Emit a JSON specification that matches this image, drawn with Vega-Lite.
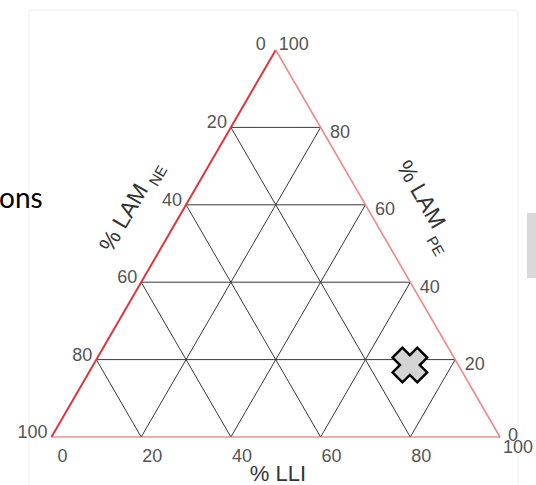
{
  "$schema": "https://vega.github.io/schema/vega-lite/v6.json",
  "width": 448.5,
  "height": 387,
  "autosize": "none",
  "padding": {"left": 51.5, "top": 50, "right": 36, "bottom": 48},
  "background": "white",
  "config": {"view": {"stroke": null}},
  "datasets": {
    "frame": [{"x": -5.0, "x2": 104.0, "y": 110.3, "y2": -14}],
    "side": [{"x": 106.0, "x2": 110, "y": 57.9, "y2": 41.1}],
    "snippet": [{"text": "ons", "x": -11.7, "y": 59.2}],
    "grid": [
      {"x": 10, "y": 20, "x2": 90, "y2": 20},
      {"x": 20, "y": 40, "x2": 80, "y2": 40},
      {"x": 30, "y": 60, "x2": 70, "y2": 60},
      {"x": 40, "y": 80, "x2": 60, "y2": 80},
      {"x": 40, "y": 80, "x2": 80, "y2": 0},
      {"x": 30, "y": 60, "x2": 60, "y2": 0},
      {"x": 20, "y": 40, "x2": 40, "y2": 0},
      {"x": 10, "y": 20, "x2": 20, "y2": 0},
      {"x": 20, "y": 0, "x2": 60, "y2": 80},
      {"x": 40, "y": 0, "x2": 70, "y2": 60},
      {"x": 60, "y": 0, "x2": 80, "y2": 40},
      {"x": 80, "y": 0, "x2": 90, "y2": 20}
    ],
    "edges": [
      {"edge": "left", "x": 0, "y": 0, "x2": 50, "y2": 100},
      {"edge": "right", "x": 100, "y": 0, "x2": 50, "y2": 100},
      {"edge": "bottom", "x": 0, "y": 0, "x2": 100, "y2": 0}
    ],
    "ticks": [
      {"axis": "NE", "v": 0, "x": 50, "y": 100},
      {"axis": "NE", "v": 20, "x": 40, "y": 80},
      {"axis": "NE", "v": 40, "x": 30, "y": 60},
      {"axis": "NE", "v": 60, "x": 20, "y": 40},
      {"axis": "NE", "v": 80, "x": 10, "y": 20},
      {"axis": "NE", "v": 100, "x": 0, "y": 0},
      {"axis": "PE", "v": 0, "x": 100, "y": 0},
      {"axis": "PE", "v": 20, "x": 90, "y": 20},
      {"axis": "PE", "v": 40, "x": 80, "y": 40},
      {"axis": "PE", "v": 60, "x": 70, "y": 60},
      {"axis": "PE", "v": 80, "x": 60, "y": 80},
      {"axis": "PE", "v": 100, "x": 50, "y": 100},
      {"axis": "LLI", "v": 0, "x": 0, "y": 0},
      {"axis": "LLI", "v": 20, "x": 20, "y": 0},
      {"axis": "LLI", "v": 40, "x": 40, "y": 0},
      {"axis": "LLI", "v": 60, "x": 60, "y": 0},
      {"axis": "LLI", "v": 80, "x": 80, "y": 0},
      {"axis": "LLI", "v": 100, "x": 100, "y": 0}
    ],
    "titles": [
      {"id": "LLI", "text": "% LLI", "x": 50.5, "y": -11.3},
      {"id": "NEmain", "text": "% LAM", "x": 16.2, "y": 56.6},
      {"id": "NEsub", "text": "NE", "x": 23.8, "y": 67.5},
      {"id": "PEmain", "text": "% LAM", "x": 82.3, "y": 62.6},
      {"id": "PEsub", "text": "PE", "x": 85.6, "y": 49.3}
    ],
    "points": [{"LLI": 70.6, "LAM_PE": 18.6, "LAM_NE": 10.8}]
  },
  "layer": [
    {
      "data": {"name": "frame"},
      "mark": {"type": "rect", "fill": null, "stroke": "#efefef", "strokeWidth": 1},
      "encoding": {
        "x": {"field": "x", "type": "quantitative", "scale": {"domain": [0, 100], "nice": false, "zero": false}, "axis": null},
        "x2": {"field": "x2"},
        "y": {"field": "y", "type": "quantitative", "scale": {"domain": [0, 100], "nice": false, "zero": false}, "axis": null},
        "y2": {"field": "y2"}
      }
    },
    {
      "data": {"name": "side"},
      "mark": {"type": "rect", "fill": "#d9d9d9"},
      "encoding": {
        "x": {"field": "x", "type": "quantitative", "scale": {"domain": [0, 100], "nice": false, "zero": false}, "axis": null},
        "x2": {"field": "x2"},
        "y": {"field": "y", "type": "quantitative", "scale": {"domain": [0, 100], "nice": false, "zero": false}, "axis": null},
        "y2": {"field": "y2"}
      }
    },
    {
      "data": {"name": "snippet"},
      "mark": {"type": "text", "font": "Lato", "fontSize": 28, "color": "#000000", "align": "left", "baseline": "alphabetic"},
      "encoding": {
        "x": {"field": "x", "type": "quantitative", "scale": {"domain": [0, 100], "nice": false, "zero": false}, "axis": null},
        "y": {"field": "y", "type": "quantitative", "scale": {"domain": [0, 100], "nice": false, "zero": false}, "axis": null},
        "text": {"field": "text"}
      }
    },
    {
      "data": {"name": "grid"},
      "mark": {"type": "rule", "color": "#383838", "strokeWidth": 1},
      "encoding": {
        "x": {"field": "x", "type": "quantitative", "scale": {"domain": [0, 100], "nice": false, "zero": false}, "axis": null},
        "x2": {"field": "x2"},
        "y": {"field": "y", "type": "quantitative", "scale": {"domain": [0, 100], "nice": false, "zero": false}, "axis": null},
        "y2": {"field": "y2"}
      }
    },
    {
      "data": {"name": "edges"},
      "mark": {"type": "rule"},
      "encoding": {
        "x": {"field": "x", "type": "quantitative", "scale": {"domain": [0, 100], "nice": false, "zero": false}, "axis": null},
        "x2": {"field": "x2"},
        "y": {"field": "y", "type": "quantitative", "scale": {"domain": [0, 100], "nice": false, "zero": false}, "axis": null},
        "y2": {"field": "y2"},
        "color": {"field": "edge", "type": "nominal", "scale": {"domain": ["left", "right", "bottom"], "range": ["#d8383f", "#ec8a8a", "#e05a5a"]}, "legend": null},
        "strokeWidth": {"field": "edge", "type": "nominal", "scale": {"domain": ["left", "right", "bottom"], "range": [2, 1.2, 1.6]}, "legend": null}
      }
    },
    {
      "data": {"name": "ticks"},
      "transform": [{"filter": "datum.axis === 'NE' && datum.v > 0"}],
      "mark": {"type": "text", "font": "Liberation Sans", "fontSize": 18, "color": "#555555", "align": "right", "baseline": "middle", "dx": -4, "dy": -4},
      "encoding": {
        "x": {"field": "x", "type": "quantitative", "scale": {"domain": [0, 100], "nice": false, "zero": false}, "axis": null},
        "y": {"field": "y", "type": "quantitative", "scale": {"domain": [0, 100], "nice": false, "zero": false}, "axis": null},
        "text": {"field": "v", "type": "quantitative"}
      }
    },
    {
      "data": {"name": "ticks"},
      "transform": [{"filter": "datum.axis === 'NE' && datum.v === 0"}],
      "mark": {"type": "text", "font": "Liberation Sans", "fontSize": 18, "color": "#555555", "align": "right", "baseline": "middle", "dx": -10, "dy": -5},
      "encoding": {
        "x": {"field": "x", "type": "quantitative", "scale": {"domain": [0, 100], "nice": false, "zero": false}, "axis": null},
        "y": {"field": "y", "type": "quantitative", "scale": {"domain": [0, 100], "nice": false, "zero": false}, "axis": null},
        "text": {"field": "v", "type": "quantitative"}
      }
    },
    {
      "data": {"name": "ticks"},
      "transform": [{"filter": "datum.axis === 'PE' && datum.v > 0 && datum.v < 100"}],
      "mark": {"type": "text", "font": "Liberation Sans", "fontSize": 18, "color": "#555555", "align": "left", "baseline": "middle", "dx": 9.5, "dy": 5.5},
      "encoding": {
        "x": {"field": "x", "type": "quantitative", "scale": {"domain": [0, 100], "nice": false, "zero": false}, "axis": null},
        "y": {"field": "y", "type": "quantitative", "scale": {"domain": [0, 100], "nice": false, "zero": false}, "axis": null},
        "text": {"field": "v", "type": "quantitative"}
      }
    },
    {
      "data": {"name": "ticks"},
      "transform": [{"filter": "datum.axis === 'PE' && datum.v === 0"}],
      "mark": {"type": "text", "font": "Liberation Sans", "fontSize": 18, "color": "#555555", "align": "left", "baseline": "middle", "dx": 8, "dy": -1},
      "encoding": {
        "x": {"field": "x", "type": "quantitative", "scale": {"domain": [0, 100], "nice": false, "zero": false}, "axis": null},
        "y": {"field": "y", "type": "quantitative", "scale": {"domain": [0, 100], "nice": false, "zero": false}, "axis": null},
        "text": {"field": "v", "type": "quantitative"}
      }
    },
    {
      "data": {"name": "ticks"},
      "transform": [{"filter": "datum.axis === 'PE' && datum.v === 100"}],
      "mark": {"type": "text", "font": "Liberation Sans", "fontSize": 18, "color": "#555555", "align": "left", "baseline": "middle", "dx": 3, "dy": -5},
      "encoding": {
        "x": {"field": "x", "type": "quantitative", "scale": {"domain": [0, 100], "nice": false, "zero": false}, "axis": null},
        "y": {"field": "y", "type": "quantitative", "scale": {"domain": [0, 100], "nice": false, "zero": false}, "axis": null},
        "text": {"field": "v", "type": "quantitative"}
      }
    },
    {
      "data": {"name": "ticks"},
      "transform": [{"filter": "datum.axis === 'LLI' && datum.v < 100"}],
      "mark": {"type": "text", "font": "Liberation Sans", "fontSize": 18, "color": "#555555", "align": "center", "baseline": "middle", "dx": 11, "dy": 20},
      "encoding": {
        "x": {"field": "x", "type": "quantitative", "scale": {"domain": [0, 100], "nice": false, "zero": false}, "axis": null},
        "y": {"field": "y", "type": "quantitative", "scale": {"domain": [0, 100], "nice": false, "zero": false}, "axis": null},
        "text": {"field": "v", "type": "quantitative"}
      }
    },
    {
      "data": {"name": "ticks"},
      "transform": [{"filter": "datum.axis === 'LLI' && datum.v === 100"}],
      "mark": {"type": "text", "font": "Liberation Sans", "fontSize": 18, "color": "#555555", "align": "center", "baseline": "middle", "dx": 18, "dy": 11},
      "encoding": {
        "x": {"field": "x", "type": "quantitative", "scale": {"domain": [0, 100], "nice": false, "zero": false}, "axis": null},
        "y": {"field": "y", "type": "quantitative", "scale": {"domain": [0, 100], "nice": false, "zero": false}, "axis": null},
        "text": {"field": "v", "type": "quantitative"}
      }
    },
    {
      "data": {"name": "titles"},
      "transform": [{"filter": "datum.id === 'LLI'"}],
      "mark": {"type": "text", "font": "Liberation Sans", "fontSize": 22, "color": "#333333", "align": "center", "baseline": "alphabetic"},
      "encoding": {
        "x": {"field": "x", "type": "quantitative", "scale": {"domain": [0, 100], "nice": false, "zero": false}, "axis": null},
        "y": {"field": "y", "type": "quantitative", "scale": {"domain": [0, 100], "nice": false, "zero": false}, "axis": null},
        "text": {"field": "text"}
      }
    },
    {
      "data": {"name": "titles"},
      "transform": [{"filter": "datum.id === 'NEmain'"}],
      "mark": {"type": "text", "font": "Liberation Sans", "fontSize": 23, "color": "#333333", "align": "center", "baseline": "middle", "angle": -60},
      "encoding": {
        "x": {"field": "x", "type": "quantitative", "scale": {"domain": [0, 100], "nice": false, "zero": false}, "axis": null},
        "y": {"field": "y", "type": "quantitative", "scale": {"domain": [0, 100], "nice": false, "zero": false}, "axis": null},
        "text": {"field": "text"}
      }
    },
    {
      "data": {"name": "titles"},
      "transform": [{"filter": "datum.id === 'NEsub'"}],
      "mark": {"type": "text", "font": "Liberation Sans", "fontSize": 15, "color": "#333333", "align": "center", "baseline": "middle", "angle": -60},
      "encoding": {
        "x": {"field": "x", "type": "quantitative", "scale": {"domain": [0, 100], "nice": false, "zero": false}, "axis": null},
        "y": {"field": "y", "type": "quantitative", "scale": {"domain": [0, 100], "nice": false, "zero": false}, "axis": null},
        "text": {"field": "text"}
      }
    },
    {
      "data": {"name": "titles"},
      "transform": [{"filter": "datum.id === 'PEmain'"}],
      "mark": {"type": "text", "font": "Liberation Sans", "fontSize": 23, "color": "#333333", "align": "center", "baseline": "middle", "angle": 60},
      "encoding": {
        "x": {"field": "x", "type": "quantitative", "scale": {"domain": [0, 100], "nice": false, "zero": false}, "axis": null},
        "y": {"field": "y", "type": "quantitative", "scale": {"domain": [0, 100], "nice": false, "zero": false}, "axis": null},
        "text": {"field": "text"}
      }
    },
    {
      "data": {"name": "titles"},
      "transform": [{"filter": "datum.id === 'PEsub'"}],
      "mark": {"type": "text", "font": "Liberation Sans", "fontSize": 15, "color": "#333333", "align": "center", "baseline": "middle", "angle": 60},
      "encoding": {
        "x": {"field": "x", "type": "quantitative", "scale": {"domain": [0, 100], "nice": false, "zero": false}, "axis": null},
        "y": {"field": "y", "type": "quantitative", "scale": {"domain": [0, 100], "nice": false, "zero": false}, "axis": null},
        "text": {"field": "text"}
      }
    },
    {
      "data": {"name": "points"},
      "transform": [{"calculate": "datum.LLI + datum.LAM_PE / 2", "as": "px"}],
      "mark": {"type": "point", "shape": "cross", "angle": 45, "filled": true, "fill": "#d4d4d4", "stroke": "#000000", "strokeWidth": 2.5, "size": 1225, "opacity": 1},
      "encoding": {
        "x": {"field": "px", "type": "quantitative", "scale": {"domain": [0, 100], "nice": false, "zero": false}, "axis": null},
        "y": {"field": "LAM_PE", "type": "quantitative", "scale": {"domain": [0, 100], "nice": false, "zero": false}, "axis": null}
      }
    }
  ]
}
